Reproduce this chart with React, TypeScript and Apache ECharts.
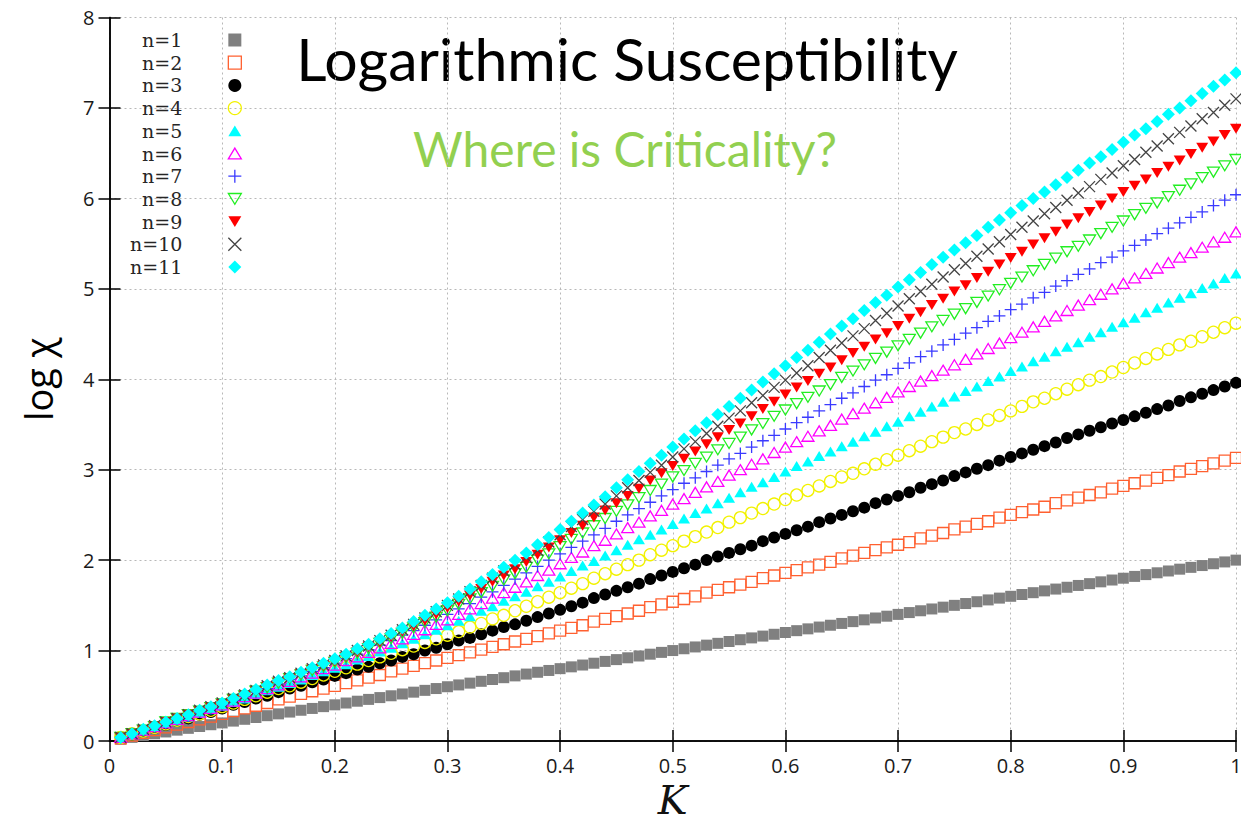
import React, { useEffect, useRef } from "react";
import * as echarts from "echarts";

const K = [
  0.01, 0.02, 0.03, 0.04, 0.05, 0.06, 0.07, 0.08, 0.09, 0.1,
  0.11, 0.12, 0.13, 0.14, 0.15, 0.16, 0.17, 0.18, 0.19, 0.2,
  0.21, 0.22, 0.23, 0.24, 0.25, 0.26, 0.27, 0.28, 0.29, 0.3,
  0.31, 0.32, 0.33, 0.34, 0.35, 0.36, 0.37, 0.38, 0.39, 0.4,
  0.41, 0.42, 0.43, 0.44, 0.45, 0.46, 0.47, 0.48, 0.49, 0.5,
  0.51, 0.52, 0.53, 0.54, 0.55, 0.56, 0.57, 0.58, 0.59, 0.6,
  0.61, 0.62, 0.63, 0.64, 0.65, 0.66, 0.67, 0.68, 0.69, 0.7,
  0.71, 0.72, 0.73, 0.74, 0.75, 0.76, 0.77, 0.78, 0.79, 0.8,
  0.81, 0.82, 0.83, 0.84, 0.85, 0.86, 0.87, 0.88, 0.89, 0.9,
  0.91, 0.92, 0.93, 0.94, 0.95, 0.96, 0.97, 0.98, 0.99, 1.0,
];

const n1 = [
  0.02, 0.04, 0.06, 0.08, 0.10, 0.12, 0.14, 0.16, 0.18, 0.20,
  0.22, 0.24, 0.26, 0.28, 0.30, 0.32, 0.34, 0.36, 0.38, 0.40,
  0.42, 0.44, 0.46, 0.48, 0.50, 0.52, 0.54, 0.56, 0.58, 0.60,
  0.62, 0.64, 0.66, 0.68, 0.70, 0.72, 0.74, 0.76, 0.78, 0.80,
  0.82, 0.84, 0.86, 0.88, 0.90, 0.92, 0.94, 0.96, 0.98, 1.00,
  1.02, 1.04, 1.06, 1.08, 1.10, 1.12, 1.14, 1.16, 1.18, 1.20,
  1.22, 1.24, 1.26, 1.28, 1.30, 1.32, 1.34, 1.36, 1.38, 1.40,
  1.42, 1.44, 1.46, 1.48, 1.50, 1.52, 1.54, 1.56, 1.58, 1.60,
  1.62, 1.64, 1.66, 1.68, 1.70, 1.72, 1.74, 1.76, 1.78, 1.80,
  1.82, 1.84, 1.86, 1.88, 1.90, 1.92, 1.94, 1.96, 1.98, 2.00,
];

const n2 = [
  0.03, 0.06, 0.09, 0.12, 0.15, 0.18, 0.21, 0.24, 0.27, 0.30,
  0.33, 0.36, 0.39, 0.42, 0.46, 0.49, 0.52, 0.55, 0.58, 0.61,
  0.64, 0.67, 0.70, 0.73, 0.77, 0.80, 0.83, 0.86, 0.89, 0.92,
  0.95, 0.98, 1.01, 1.04, 1.07, 1.10, 1.13, 1.16, 1.19, 1.22,
  1.25, 1.28, 1.32, 1.35, 1.38, 1.41, 1.44, 1.48, 1.51, 1.54,
  1.57, 1.60, 1.64, 1.67, 1.70, 1.73, 1.76, 1.80, 1.83, 1.86,
  1.89, 1.92, 1.95, 1.98, 2.02, 2.05, 2.08, 2.11, 2.14, 2.17,
  2.20, 2.24, 2.27, 2.30, 2.34, 2.37, 2.40, 2.43, 2.47, 2.50,
  2.53, 2.56, 2.59, 2.63, 2.66, 2.69, 2.72, 2.75, 2.79, 2.82,
  2.85, 2.88, 2.91, 2.94, 2.98, 3.01, 3.04, 3.07, 3.10, 3.13,
];

const n3 = [
  0.04, 0.07, 0.11, 0.14, 0.18, 0.22, 0.25, 0.29, 0.32, 0.36,
  0.40, 0.43, 0.47, 0.50, 0.54, 0.58, 0.61, 0.65, 0.68, 0.72,
  0.75, 0.79, 0.82, 0.86, 0.89, 0.93, 0.96, 1.00, 1.03, 1.07,
  1.11, 1.14, 1.18, 1.22, 1.26, 1.29, 1.33, 1.37, 1.41, 1.45,
  1.49, 1.53, 1.58, 1.62, 1.66, 1.70, 1.74, 1.79, 1.83, 1.87,
  1.91, 1.95, 2.00, 2.04, 2.08, 2.12, 2.16, 2.21, 2.25, 2.29,
  2.33, 2.37, 2.42, 2.46, 2.50, 2.54, 2.58, 2.63, 2.67, 2.71,
  2.75, 2.80, 2.84, 2.88, 2.93, 2.97, 3.01, 3.05, 3.10, 3.14,
  3.18, 3.22, 3.26, 3.30, 3.35, 3.39, 3.43, 3.47, 3.51, 3.55,
  3.59, 3.63, 3.67, 3.71, 3.76, 3.80, 3.84, 3.88, 3.92, 3.96,
];

const n4 = [
  0.04, 0.08, 0.11, 0.15, 0.19, 0.23, 0.27, 0.30, 0.34, 0.38,
  0.42, 0.46, 0.50, 0.54, 0.58, 0.61, 0.65, 0.69, 0.73, 0.77,
  0.81, 0.85, 0.89, 0.93, 0.97, 1.01, 1.05, 1.09, 1.13, 1.17,
  1.21, 1.26, 1.30, 1.35, 1.39, 1.44, 1.49, 1.54, 1.59, 1.64,
  1.69, 1.74, 1.80, 1.85, 1.90, 1.95, 2.00, 2.06, 2.11, 2.16,
  2.21, 2.26, 2.31, 2.36, 2.42, 2.47, 2.52, 2.57, 2.62, 2.67,
  2.72, 2.77, 2.82, 2.87, 2.92, 2.96, 3.01, 3.06, 3.11, 3.16,
  3.21, 3.26, 3.31, 3.36, 3.41, 3.45, 3.50, 3.55, 3.60, 3.65,
  3.70, 3.75, 3.79, 3.84, 3.89, 3.94, 3.99, 4.03, 4.08, 4.13,
  4.18, 4.23, 4.28, 4.33, 4.38, 4.42, 4.47, 4.52, 4.57, 4.62,
];

const n5 = [
  0.04, 0.08, 0.12, 0.16, 0.20, 0.23, 0.27, 0.31, 0.35, 0.39,
  0.43, 0.47, 0.52, 0.56, 0.60, 0.64, 0.68, 0.73, 0.77, 0.81,
  0.85, 0.90, 0.94, 0.99, 1.03, 1.08, 1.13, 1.18, 1.23, 1.28,
  1.33, 1.38, 1.44, 1.49, 1.55, 1.60, 1.65, 1.71, 1.76, 1.82,
  1.88, 1.94, 1.99, 2.05, 2.11, 2.17, 2.23, 2.28, 2.34, 2.40,
  2.46, 2.52, 2.57, 2.63, 2.69, 2.75, 2.81, 2.86, 2.92, 2.98,
  3.04, 3.09, 3.15, 3.20, 3.26, 3.31, 3.37, 3.42, 3.48, 3.53,
  3.59, 3.64, 3.70, 3.75, 3.81, 3.87, 3.92, 3.98, 4.03, 4.09,
  4.14, 4.20, 4.25, 4.31, 4.36, 4.41, 4.47, 4.52, 4.58, 4.63,
  4.68, 4.74, 4.79, 4.85, 4.90, 4.95, 5.01, 5.06, 5.12, 5.17,
];

const n6 = [
  0.04, 0.08, 0.12, 0.16, 0.20, 0.24, 0.28, 0.32, 0.36, 0.40,
  0.44, 0.49, 0.53, 0.58, 0.62, 0.66, 0.71, 0.75, 0.80, 0.84,
  0.89, 0.93, 0.98, 1.03, 1.08, 1.13, 1.18, 1.23, 1.29, 1.34,
  1.40, 1.46, 1.52, 1.58, 1.64, 1.70, 1.76, 1.83, 1.89, 1.96,
  2.03, 2.09, 2.16, 2.22, 2.29, 2.36, 2.42, 2.49, 2.55, 2.62,
  2.68, 2.75, 2.81, 2.87, 2.94, 3.00, 3.06, 3.12, 3.19, 3.25,
  3.31, 3.37, 3.43, 3.49, 3.56, 3.62, 3.68, 3.74, 3.80, 3.86,
  3.92, 3.98, 4.04, 4.10, 4.16, 4.22, 4.28, 4.34, 4.40, 4.46,
  4.52, 4.58, 4.64, 4.70, 4.76, 4.82, 4.88, 4.94, 5.00, 5.06,
  5.12, 5.17, 5.23, 5.29, 5.35, 5.40, 5.46, 5.52, 5.57, 5.63,
];

const n7 = [
  0.04, 0.08, 0.12, 0.16, 0.20, 0.24, 0.28, 0.32, 0.36, 0.40,
  0.45, 0.49, 0.54, 0.58, 0.63, 0.68, 0.72, 0.77, 0.81, 0.86,
  0.91, 0.96, 1.01, 1.06, 1.11, 1.17, 1.22, 1.28, 1.34, 1.40,
  1.46, 1.52, 1.59, 1.65, 1.72, 1.79, 1.86, 1.93, 2.00, 2.07,
  2.14, 2.21, 2.28, 2.35, 2.43, 2.50, 2.57, 2.64, 2.71, 2.78,
  2.85, 2.91, 2.98, 3.05, 3.12, 3.18, 3.25, 3.32, 3.38, 3.45,
  3.52, 3.58, 3.65, 3.72, 3.79, 3.85, 3.92, 3.99, 4.05, 4.12,
  4.18, 4.25, 4.31, 4.38, 4.44, 4.51, 4.57, 4.64, 4.70, 4.77,
  4.83, 4.90, 4.96, 5.03, 5.09, 5.16, 5.22, 5.29, 5.35, 5.42,
  5.48, 5.54, 5.61, 5.67, 5.73, 5.79, 5.85, 5.92, 5.98, 6.04,
];

const n8 = [
  0.04, 0.08, 0.12, 0.16, 0.21, 0.25, 0.29, 0.33, 0.37, 0.41,
  0.46, 0.50, 0.55, 0.59, 0.64, 0.69, 0.73, 0.78, 0.82, 0.87,
  0.92, 0.97, 1.02, 1.08, 1.13, 1.19, 1.25, 1.31, 1.37, 1.44,
  1.51, 1.57, 1.64, 1.71, 1.78, 1.85, 1.92, 2.00, 2.07, 2.15,
  2.23, 2.30, 2.38, 2.46, 2.54, 2.61, 2.69, 2.77, 2.84, 2.92,
  2.99, 3.07, 3.14, 3.22, 3.29, 3.36, 3.44, 3.51, 3.59, 3.66,
  3.73, 3.80, 3.87, 3.94, 4.02, 4.09, 4.16, 4.23, 4.30, 4.37,
  4.44, 4.51, 4.58, 4.65, 4.72, 4.78, 4.85, 4.92, 4.99, 5.06,
  5.13, 5.20, 5.27, 5.34, 5.41, 5.47, 5.54, 5.61, 5.68, 5.75,
  5.82, 5.89, 5.95, 6.02, 6.09, 6.16, 6.23, 6.29, 6.36, 6.43,
];

const n9 = [
  0.04, 0.08, 0.12, 0.16, 0.21, 0.25, 0.29, 0.33, 0.37, 0.41,
  0.46, 0.50, 0.55, 0.60, 0.65, 0.69, 0.74, 0.79, 0.83, 0.88,
  0.93, 0.98, 1.04, 1.09, 1.15, 1.21, 1.27, 1.33, 1.40, 1.47,
  1.54, 1.61, 1.68, 1.76, 1.83, 1.90, 1.98, 2.06, 2.14, 2.22,
  2.30, 2.38, 2.47, 2.55, 2.63, 2.71, 2.79, 2.88, 2.96, 3.04,
  3.12, 3.20, 3.28, 3.36, 3.44, 3.51, 3.59, 3.67, 3.75, 3.83,
  3.91, 3.98, 4.06, 4.13, 4.21, 4.29, 4.36, 4.44, 4.51, 4.59,
  4.67, 4.74, 4.82, 4.89, 4.97, 5.04, 5.12, 5.19, 5.27, 5.34,
  5.41, 5.49, 5.56, 5.63, 5.71, 5.78, 5.85, 5.92, 6.00, 6.07,
  6.14, 6.21, 6.28, 6.35, 6.42, 6.49, 6.56, 6.63, 6.70, 6.77,
];

const n10 = [
  0.04, 0.08, 0.13, 0.17, 0.21, 0.25, 0.29, 0.34, 0.38, 0.42,
  0.47, 0.51, 0.56, 0.61, 0.66, 0.70, 0.75, 0.80, 0.84, 0.89,
  0.94, 1.00, 1.05, 1.11, 1.17, 1.23, 1.29, 1.36, 1.43, 1.50,
  1.57, 1.65, 1.72, 1.80, 1.88, 1.95, 2.03, 2.11, 2.20, 2.28,
  2.37, 2.45, 2.54, 2.62, 2.71, 2.80, 2.88, 2.97, 3.05, 3.14,
  3.23, 3.31, 3.40, 3.48, 3.57, 3.65, 3.74, 3.82, 3.91, 3.99,
  4.07, 4.15, 4.24, 4.32, 4.40, 4.48, 4.56, 4.65, 4.73, 4.81,
  4.89, 4.97, 5.05, 5.13, 5.21, 5.28, 5.36, 5.44, 5.52, 5.60,
  5.68, 5.75, 5.83, 5.90, 5.98, 6.06, 6.13, 6.21, 6.28, 6.36,
  6.43, 6.51, 6.58, 6.66, 6.73, 6.80, 6.88, 6.95, 7.03, 7.10,
];

const n11 = [
  0.04, 0.08, 0.13, 0.17, 0.21, 0.25, 0.29, 0.34, 0.38, 0.42,
  0.47, 0.52, 0.57, 0.62, 0.67, 0.71, 0.76, 0.81, 0.86, 0.91,
  0.96, 1.02, 1.07, 1.13, 1.19, 1.25, 1.32, 1.39, 1.46, 1.53,
  1.60, 1.68, 1.76, 1.84, 1.92, 2.00, 2.08, 2.17, 2.25, 2.34,
  2.43, 2.52, 2.61, 2.70, 2.80, 2.89, 2.98, 3.07, 3.16, 3.25,
  3.34, 3.43, 3.52, 3.61, 3.70, 3.79, 3.88, 3.97, 4.06, 4.15,
  4.24, 4.32, 4.41, 4.50, 4.59, 4.67, 4.76, 4.85, 4.93, 5.02,
  5.10, 5.18, 5.27, 5.35, 5.43, 5.51, 5.59, 5.68, 5.76, 5.84,
  5.92, 6.00, 6.07, 6.15, 6.23, 6.31, 6.39, 6.46, 6.54, 6.62,
  6.70, 6.77, 6.85, 6.93, 7.00, 7.08, 7.16, 7.24, 7.31, 7.39,
];

const seriesNames = ["n=1", "n=2", "n=3", "n=4", "n=5", "n=6", "n=7", "n=8", "n=9", "n=10", "n=11"];
const seriesValues = [n1, n2, n3, n4, n5, n6, n7, n8, n9, n10, n11];

const PLUS = "path://M5,0L5,10M0,5L10,5";
const CROSS = "path://M0,0L10,10M10,0L0,10";
const TRI_UP = "path://M6,0L12,10L0,10Z";
const TRI_DOWN = "path://M0,0L12,0L6,10Z";

const styles = [
  { symbol: "rect", size: 11, fill: "#808080", stroke: "#808080", bw: 0 },
  { symbol: "rect", size: 11, fill: "rgba(0,0,0,0)", stroke: "#ff6030", bw: 1.3 },
  { symbol: "circle", size: 12, fill: "#000000", stroke: "#000000", bw: 0 },
  { symbol: "circle", size: 12, fill: "rgba(0,0,0,0)", stroke: "#f2f200", bw: 1.3 },
  { symbol: TRI_UP, size: 12, fill: "#00ffff", stroke: "#00ffff", bw: 0 },
  { symbol: TRI_UP, size: 12, fill: "rgba(0,0,0,0)", stroke: "#ff00ff", bw: 1.3 },
  { symbol: PLUS, size: 12, fill: "rgba(0,0,0,0)", stroke: "#3a3aff", bw: 1.3 },
  { symbol: TRI_DOWN, size: 12, fill: "rgba(0,0,0,0)", stroke: "#22ee22", bw: 1.3 },
  { symbol: TRI_DOWN, size: 12, fill: "#ff0000", stroke: "#ff0000", bw: 0 },
  { symbol: CROSS, size: 11, fill: "rgba(0,0,0,0)", stroke: "#444444", bw: 1.3 },
  { symbol: "diamond", size: 13, fill: "#00ffff", stroke: "#00ffff", bw: 0 },
];

const fmtX = (v: number) => (v === 0 ? "0" : v === 1 ? "1" : String(Number(v.toFixed(1))));

export default function App() {
  const ref = useRef<HTMLDivElement>(null);
  useEffect(() => {
    if (!ref.current) return;
    const chart = echarts.init(ref.current, undefined, { renderer: "svg" });
    const axisLineStyle = { color: "#000", width: 1.5 };
    const gridLine = { show: true, lineStyle: { color: "#b8b8b8", type: [2, 3], width: 1 } };
    const labelStyle = { fontFamily: "Open Sans", fontSize: 20, color: "#1a1a1a" };

    const series = seriesNames.map((name, i) => {
      const s = styles[i];
      return {
        type: "scatter",
        name,
        data: K.map((k, j) => [k, seriesValues[i][j]]),
        symbol: s.symbol,
        symbolSize: s.size,
        symbolKeepAspect: true,
        clip: false,
        itemStyle: { color: s.fill, borderColor: s.stroke, borderWidth: s.bw, opacity: 1 },
        emphasis: { disabled: true },
        xAxisIndex: 0,
        yAxisIndex: 0,
      };
    });

    chart.setOption({
      animation: false,
      backgroundColor: "#ffffff",
      grid: { left: 109.5, right: 5, top: 17.5, bottom: 82, containLabel: false, outerBoundsMode: "none" },
      legend: {
        orient: "vertical",
        left: 130,
        top: 30.5,
        padding: 0,
        align: "right",
        itemWidth: 13,
        itemHeight: 13,
        itemGap: 3.7,
        selectedMode: false,
        textStyle: { fontFamily: "DejaVu Serif", fontSize: 19, color: "#262626", padding: [0, 41, 0, 0] },
        data: seriesNames.map((name, i) => ({
          name,
          icon: styles[i].symbol,
          itemStyle: {
            color: styles[i].fill,
            borderColor: styles[i].stroke,
            borderWidth: styles[i].bw,
          },
        })),
      },
      xAxis: [
        {
          type: "value",
          min: 0,
          max: 1,
          interval: 0.1,
          position: "bottom",
          axisLine: { show: true, lineStyle: axisLineStyle },
          axisTick: { show: true, inside: true, length: 11, lineStyle: axisLineStyle },
          axisLabel: { ...labelStyle, margin: 14, formatter: fmtX },
          splitLine: gridLine,
          name: "K",
          nameLocation: "middle",
          nameGap: 35,
          nameTextStyle: {
            fontFamily: "DejaVu Serif",
            fontStyle: "italic",
            fontSize: 40,
            lineHeight: 38,
            color: "#111",
          },
        },
        {
          type: "value",
          min: 0,
          max: 1,
          interval: 0.1,
          position: "top",
          axisLine: { show: true, lineStyle: axisLineStyle },
          axisTick: { show: true, inside: true, length: 11, lineStyle: axisLineStyle },
          axisLabel: { show: false },
          splitLine: { show: false },
        },
      ],
      yAxis: [
        {
          type: "value",
          min: 0,
          max: 8,
          interval: 1,
          position: "left",
          axisLine: { show: true, lineStyle: axisLineStyle },
          axisTick: { show: true, inside: true, length: 11, lineStyle: axisLineStyle },
          axisLabel: { ...labelStyle, margin: 15 },
          splitLine: gridLine,
          name: "log χ",
          nameLocation: "middle",
          nameGap: 53,
          nameRotate: 90,
          nameTextStyle: { fontFamily: "Open Sans", fontSize: 38, color: "#000" },
        },
        {
          type: "value",
          min: 0,
          max: 8,
          interval: 1,
          position: "right",
          axisLine: { show: true, lineStyle: axisLineStyle },
          axisTick: { show: true, inside: true, length: 11, lineStyle: axisLineStyle },
          axisLabel: { show: false },
          splitLine: { show: false },
        },
      ],
      graphic: [
        {
          type: "text",
          x: 627,
          y: 58,
          style: {
            text: "Logarithmic Susceptibility",
            fontFamily: "Lato",
            fontSize: 59,
            fill: "#000",
            textAlign: "center",
            textVerticalAlign: "middle",
            align: "center",
            verticalAlign: "middle",
          },
        },
        {
          type: "text",
          x: 625,
          y: 148,
          style: {
            text: "Where is Criticality?",
            fontFamily: "Lato",
            fontSize: 48,
            fill: "#92d050",
            textAlign: "center",
            textVerticalAlign: "middle",
            align: "center",
            verticalAlign: "middle",
          },
        },
      ],
      series,
    });
    return () => chart.dispose();
  }, []);
  return (
    <div
      ref={ref}
      style={{ position: "fixed", left: 0, top: 0, width: 1241, height: 823, background: "#fff" }}
    />
  );
}
